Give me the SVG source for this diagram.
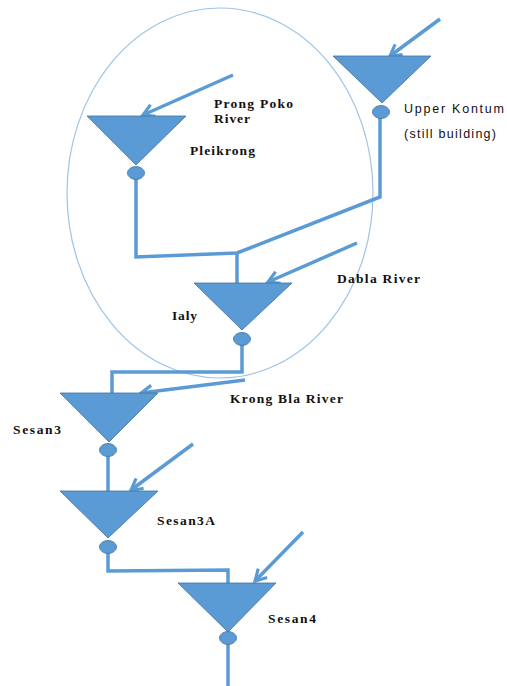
<svg xmlns="http://www.w3.org/2000/svg" width="507" height="686" viewBox="0 0 507 686">
<defs>
<marker id="ah" viewBox="0 0 10 10" refX="8" refY="5" markerWidth="4.5" markerHeight="4.5" orient="auto" markerUnits="strokeWidth">
<path d="M1,1 L8,5 L1,9" fill="none" stroke="#5B9BD5" stroke-width="2"/>
</marker>
</defs>
<style>
.dam{fill:#5B9BD5;stroke:#41719C;stroke-width:0.8}
.out{fill:#5B9BD5;stroke:#41719C;stroke-width:0.8}
.ln{fill:none;stroke:#5B9BD5;stroke-width:3.5;stroke-linejoin:miter}
.ar{fill:none;stroke:#5B9BD5;stroke-width:3.5;marker-end:url(#ah)}
.ser{font-family:"Liberation Serif","Times New Roman",serif;font-size:13.5px;font-weight:bold;fill:#111}
.san{font-family:"Liberation Sans",Arial,sans-serif;font-size:12.5px;fill:#111}
</style>
<rect width="507" height="686" fill="#fff"/>
<ellipse id="circle" cx="220" cy="193" rx="153" ry="185" fill="none" stroke="#9DC3E6" stroke-width="1.2"/>
<g id="connectors">
<path class="ln" d="M136,173 L136,257 L237,253 L380,197 L380,112"/>
<path class="ln" d="M237,253 L237,284"/>
<path class="ln" d="M242,339 L242,372 L112,372 L112,394"/>
<path class="ln" d="M108,450 L108,492"/>
<path class="ln" d="M108,547 L108,571 L228,570 L228,584"/>
<path class="ln" d="M228,638 L228,686"/>
<path class="ar" d="M440,19 L390,56"/>
<path class="ar" d="M233,75 L143,115"/>
<path class="ar" d="M357,243 L268,282"/>
<path class="ar" d="M245,380 L141,393"/>
<path class="ar" d="M193,444 L131,490"/>
<path class="ar" d="M303,532 L255,581"/>
</g>
<g id="upper-kontum">
<polygon class="dam" points="333,56 431,56 382,103"/>
<ellipse class="out" cx="381" cy="112" rx="8.5" ry="6.5"/>
<text class="san" x="404" y="113" textLength="100" lengthAdjust="spacing">Upper Kontum</text>
<text class="san" x="404" y="138" textLength="92" lengthAdjust="spacing">(still building)</text>
</g>
<g id="pleikrong">
<polygon class="dam" points="87,116 186,116 136,165"/>
<ellipse class="out" cx="136" cy="173" rx="8.5" ry="6.5"/>
<text class="ser" x="190" y="155" textLength="65" lengthAdjust="spacing">Pleikrong</text>
<text class="ser" x="214" y="108" textLength="79" lengthAdjust="spacing">Prong Poko</text>
<text class="ser" x="214" y="123" textLength="36" lengthAdjust="spacing">River</text>
</g>
<g id="ialy">
<polygon class="dam" points="194,283 292,283 242,330"/>
<ellipse class="out" cx="242" cy="339" rx="8.5" ry="6.5"/>
<text class="ser" x="172" y="320" textLength="25" lengthAdjust="spacing">Ialy</text>
<text class="ser" x="337" y="283" textLength="83" lengthAdjust="spacing">Dabla River</text>
</g>
<g id="sesan3">
<polygon class="dam" points="60,393 158,393 109,442"/>
<ellipse class="out" cx="108" cy="450" rx="8.5" ry="6.5"/>
<text class="ser" x="13" y="434" textLength="48" lengthAdjust="spacing">Sesan3</text>
<text class="ser" x="230" y="403" textLength="113" lengthAdjust="spacing">Krong Bla River</text>
</g>
<g id="sesan3a">
<polygon class="dam" points="60,491 158,491 108,538"/>
<ellipse class="out" cx="108" cy="547" rx="8.5" ry="6.5"/>
<text class="ser" x="157" y="525" textLength="58" lengthAdjust="spacing">Sesan3A</text>
</g>
<g id="sesan4">
<polygon class="dam" points="178,583 276,583 228,632"/>
<ellipse class="out" cx="228" cy="638" rx="8.5" ry="6.5"/>
<text class="ser" x="268" y="623" textLength="48" lengthAdjust="spacing">Sesan4</text>
</g>
</svg>
